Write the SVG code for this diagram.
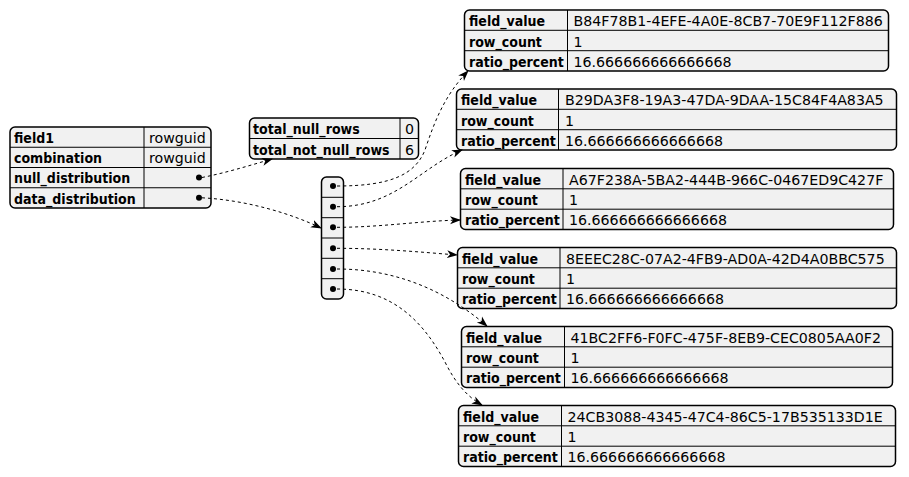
<svg xmlns="http://www.w3.org/2000/svg" width="909" height="477" viewBox="0 0 909 477">
<style>
.box{fill:#F1F1F1;stroke:#000;stroke-width:1.5}
.ln{stroke:#000;stroke-width:1}
.k{font-family:"DejaVu Sans Condensed","DejaVu Sans",sans-serif;font-stretch:condensed;font-size:14px;font-weight:bold;fill:#000}
.v{font-family:"DejaVu Sans",Verdana,sans-serif;font-size:14.2px;fill:#000}
.dot{fill:#000}
.e{fill:none;stroke:#000;stroke-width:1;stroke-dasharray:3,3}
</style>
<defs>
<marker id="ah" markerWidth="11" markerHeight="10" viewBox="0 0 11 10" refX="10" refY="5" orient="auto" markerUnits="userSpaceOnUse">
<path d="M0,1 L11,5 L0,9 L3,5 z" fill="#000"/>
</marker>
</defs>
<rect width="909" height="477" fill="#fff"/>
<g id="root">
<rect class="box" x="10" y="127" width="201" height="81" rx="5"/>
<line class="ln" x1="10" y1="147.25" x2="211" y2="147.25"/>
<line class="ln" x1="10" y1="167.5" x2="211" y2="167.5"/>
<line class="ln" x1="10" y1="187.75" x2="211" y2="187.75"/>
<line class="ln" x1="144" y1="127" x2="144" y2="208"/>
<text class="k" x="14" y="142.5">field1</text>
<text class="k" x="14" y="163">combination</text>
<text class="k" x="14" y="183">null_distribution</text>
<text class="k" x="14" y="203.5">data_distribution</text>
<text class="v" x="149" y="142.5">rowguid</text>
<text class="v" x="149" y="163">rowguid</text>
<circle class="dot" cx="199" cy="177.5" r="3"/>
<circle class="dot" cx="199" cy="197.8" r="3"/>
</g>
<g id="nulls">
<rect class="box" x="249.5" y="118" width="169" height="41" rx="5"/>
<line class="ln" x1="249.5" y1="138.5" x2="418.5" y2="138.5"/>
<line class="ln" x1="400" y1="118" x2="400" y2="159"/>
<text class="k" x="253" y="134">total_null_rows</text>
<text class="k" x="253" y="154.5">total_not_null_rows</text>
<text class="v" x="405" y="134">0</text>
<text class="v" x="405" y="154.5">6</text>
</g>
<g id="array">
<rect class="box" x="321.5" y="177" width="22" height="122" rx="5"/>
<line class="ln" x1="321.5" y1="197.3" x2="343.5" y2="197.3"/>
<line class="ln" x1="321.5" y1="217.7" x2="343.5" y2="217.7"/>
<line class="ln" x1="321.5" y1="238" x2="343.5" y2="238"/>
<line class="ln" x1="321.5" y1="258.3" x2="343.5" y2="258.3"/>
<line class="ln" x1="321.5" y1="278.7" x2="343.5" y2="278.7"/>
<circle class="dot" cx="333" cy="186" r="3"/>
<circle class="dot" cx="333" cy="206.7" r="3"/>
<circle class="dot" cx="333" cy="227.3" r="3"/>
<circle class="dot" cx="333" cy="248.3" r="3"/>
<circle class="dot" cx="333" cy="269" r="3"/>
<circle class="dot" cx="333" cy="289" r="3"/>
</g>
<g id="item1">
<rect class="box" x="464.5" y="10" width="424" height="61" rx="5"/>
<line class="ln" x1="464.5" y1="30.3" x2="888.5" y2="30.3"/>
<line class="ln" x1="464.5" y1="50.7" x2="888.5" y2="50.7"/>
<line class="ln" x1="567.5" y1="10" x2="567.5" y2="71"/>
<text class="k" x="469" y="26">field_value</text>
<text class="k" x="469" y="46.5">row_count</text>
<text class="k" x="469" y="66.5">ratio_percent</text>
<text class="v" x="573.5" y="26">B84F78B1-4EFE-4A0E-8CB7-70E9F112F886</text>
<text class="v" x="573.5" y="46.5">1</text>
<text class="v" x="573.5" y="66.5">16.666666666666668</text>
</g>
<g id="item2">
<rect class="box" x="456.5" y="89" width="440" height="61" rx="5"/>
<line class="ln" x1="456.5" y1="109.3" x2="896.5" y2="109.3"/>
<line class="ln" x1="456.5" y1="129.7" x2="896.5" y2="129.7"/>
<line class="ln" x1="558.5" y1="89" x2="558.5" y2="150"/>
<text class="k" x="461" y="105">field_value</text>
<text class="k" x="461" y="125.5">row_count</text>
<text class="k" x="461" y="145.5">ratio_percent</text>
<text class="v" x="565" y="105">B29DA3F8-19A3-47DA-9DAA-15C84F4A83A5</text>
<text class="v" x="565" y="125.5">1</text>
<text class="v" x="565" y="145.5">16.666666666666668</text>
</g>
<g id="item3">
<rect class="box" x="460.5" y="168.5" width="433" height="61" rx="5"/>
<line class="ln" x1="460.5" y1="188.8" x2="893.5" y2="188.8"/>
<line class="ln" x1="460.5" y1="209.2" x2="893.5" y2="209.2"/>
<line class="ln" x1="563" y1="168.5" x2="563" y2="229.5"/>
<text class="k" x="465" y="184.5">field_value</text>
<text class="k" x="465" y="205">row_count</text>
<text class="k" x="465" y="225">ratio_percent</text>
<text class="v" x="569" y="184.5">A67F238A-5BA2-444B-966C-0467ED9C427F</text>
<text class="v" x="569" y="205">1</text>
<text class="v" x="569" y="225">16.666666666666668</text>
</g>
<g id="item4">
<rect class="box" x="457.5" y="247.5" width="439" height="61" rx="5"/>
<line class="ln" x1="457.5" y1="267.8" x2="896.5" y2="267.8"/>
<line class="ln" x1="457.5" y1="288.2" x2="896.5" y2="288.2"/>
<line class="ln" x1="560" y1="247.5" x2="560" y2="308.5"/>
<text class="k" x="462" y="263.5">field_value</text>
<text class="k" x="462" y="284">row_count</text>
<text class="k" x="462" y="304">ratio_percent</text>
<text class="v" x="566" y="263.5">8EEEC28C-07A2-4FB9-AD0A-42D4A0BBC575</text>
<text class="v" x="566" y="284">1</text>
<text class="v" x="566" y="304">16.666666666666668</text>
</g>
<g id="item5">
<rect class="box" x="461.5" y="326.5" width="431" height="61" rx="5"/>
<line class="ln" x1="461.5" y1="346.8" x2="892.5" y2="346.8"/>
<line class="ln" x1="461.5" y1="367.2" x2="892.5" y2="367.2"/>
<line class="ln" x1="564.5" y1="326.5" x2="564.5" y2="387.5"/>
<text class="k" x="466" y="342.5">field_value</text>
<text class="k" x="466" y="363">row_count</text>
<text class="k" x="466" y="383">ratio_percent</text>
<text class="v" x="570.5" y="342.5">41BC2FF6-F0FC-475F-8EB9-CEC0805AA0F2</text>
<text class="v" x="570.5" y="363">1</text>
<text class="v" x="570.5" y="383">16.666666666666668</text>
</g>
<g id="item6">
<rect class="box" x="458.5" y="405.5" width="437" height="61" rx="5"/>
<line class="ln" x1="458.5" y1="425.8" x2="895.5" y2="425.8"/>
<line class="ln" x1="458.5" y1="446.2" x2="895.5" y2="446.2"/>
<line class="ln" x1="561.5" y1="405.5" x2="561.5" y2="466.5"/>
<text class="k" x="463" y="421.5">field_value</text>
<text class="k" x="463" y="442">row_count</text>
<text class="k" x="463" y="462">ratio_percent</text>
<text class="v" x="567.5" y="421.5">24CB3088-4345-47C4-86C5-17B535133D1E</text>
<text class="v" x="567.5" y="442">1</text>
<text class="v" x="567.5" y="462">16.666666666666668</text>
</g>
<g id="connectors">
<path class="e" d="M202,177.5 C225,173 248,166 272,159" marker-end="url(#ah)"/>
<path class="e" d="M202,197.8 C245,200 290,213 321,228" marker-end="url(#ah)"/>
<path class="e" d="M337,186 C390,186 415,175 425,150 C435,120 445,95 468,71" marker-end="url(#ah)"/>
<path class="e" d="M337,206.7 C395,206.7 420,168 462,150" marker-end="url(#ah)"/>
<path class="e" d="M337,227.3 C380,227.3 420,221 460,220" marker-end="url(#ah)"/>
<path class="e" d="M337,248.3 C380,248.3 420,252 457,255" marker-end="url(#ah)"/>
<path class="e" d="M337,269 C395,269 445,290 487,326" marker-end="url(#ah)"/>
<path class="e" d="M337,289 C395,289 425,325 445,362 C455,382 466,396 482,405" marker-end="url(#ah)"/>
</g>
</svg>
